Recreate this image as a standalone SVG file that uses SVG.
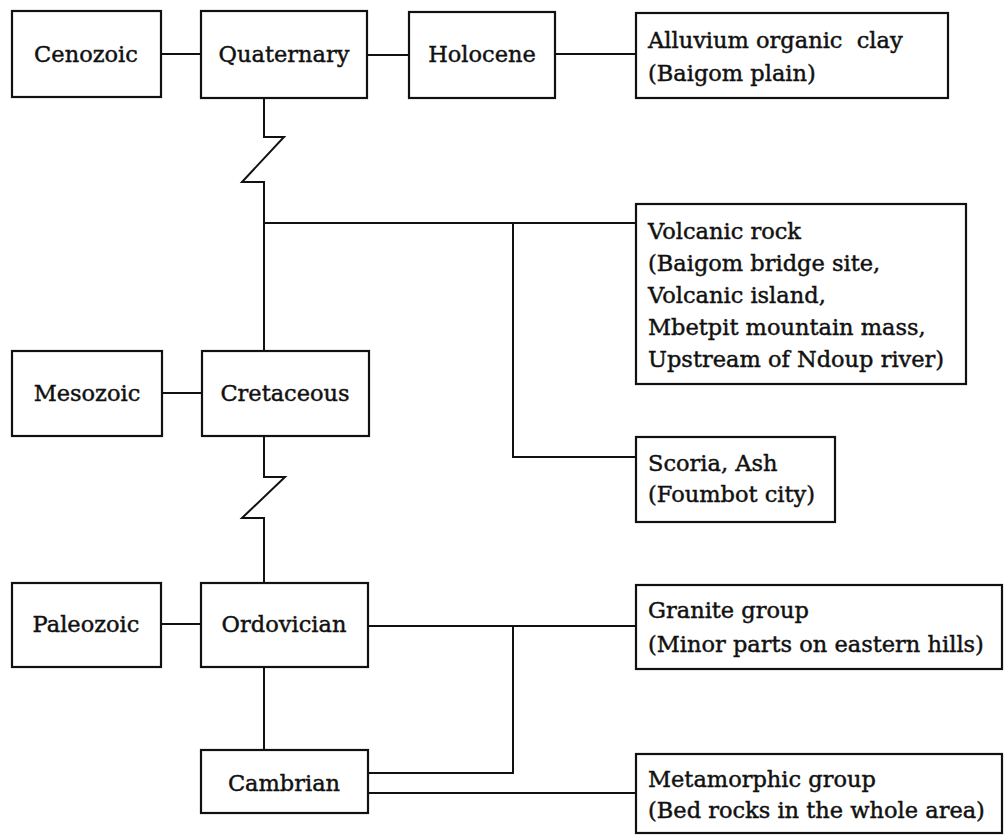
<svg xmlns="http://www.w3.org/2000/svg" width="1004" height="836" viewBox="0 0 1004 836">
<style>
.box{fill:#fff;stroke:#111;stroke-width:2.2}
.ln{fill:none;stroke:#111;stroke-width:2}
text{font-family:"DejaVu Serif","Liberation Serif",serif;font-size:22.5px;fill:#111;stroke:#111;stroke-width:0.45;white-space:pre}
.c{text-anchor:middle}
</style>
<rect width="1004" height="836" fill="#fff"/>
<g id="connectors">
<path class="ln" d="M161 54H201"/>
<path class="ln" d="M367 55H409"/>
<path class="ln" d="M555 54H636"/>
<path class="ln" d="M264 98V137H284L242 182H264V351"/>
<path class="ln" d="M264 223H636"/>
<path class="ln" d="M513 223V457H636"/>
<path class="ln" d="M162 393H202"/>
<path class="ln" d="M264 436V477H285L242 518H264V583"/>
<path class="ln" d="M161 624H201"/>
<path class="ln" d="M368 626H636"/>
<path class="ln" d="M264 667V750"/>
<path class="ln" d="M513 626V773H368"/>
<path class="ln" d="M368 793H636"/>
</g>
<g id="cenozoic"><rect class="box" x="12" y="11" width="149" height="86"/><text class="c" x="86" y="62">Cenozoic</text></g>
<g id="quaternary"><rect class="box" x="201" y="11" width="166" height="87"/><text class="c" x="284" y="62">Quaternary</text></g>
<g id="holocene"><rect class="box" x="409" y="12" width="146" height="86"/><text class="c" x="482" y="62">Holocene</text></g>
<g id="alluvium"><rect class="box" x="636" y="13" width="312" height="85"/><text x="648" y="48">Alluvium organic  clay</text><text x="648" y="81">(Baigom plain)</text></g>
<g id="volcanic"><rect class="box" x="636" y="204" width="330" height="180"/>
<text x="648" y="239">Volcanic rock</text><text x="648" y="271">(Baigom bridge site,</text><text x="648" y="303">Volcanic island,</text><text x="648" y="335">Mbetpit mountain mass,</text><text x="648" y="367">Upstream of Ndoup river)</text></g>
<g id="mesozoic"><rect class="box" x="12" y="351" width="150" height="85"/><text class="c" x="87" y="401">Mesozoic</text></g>
<g id="cretaceous"><rect class="box" x="202" y="351" width="167" height="85"/><text class="c" x="285" y="401">Cretaceous</text></g>
<g id="scoria"><rect class="box" x="636" y="437" width="199" height="85"/><text x="648" y="471">Scoria, Ash</text><text x="648" y="502">(Foumbot city)</text></g>
<g id="paleozoic"><rect class="box" x="12" y="583" width="149" height="84"/><text class="c" x="86" y="632">Paleozoic</text></g>
<g id="ordovician"><rect class="box" x="201" y="583" width="167" height="84"/><text class="c" x="284" y="632">Ordovician</text></g>
<g id="granite"><rect class="box" x="636" y="585" width="366" height="84"/><text x="648" y="618">Granite group</text><text x="648" y="652">(Minor parts on eastern hills)</text></g>
<g id="cambrian"><rect class="box" x="201" y="750" width="167" height="63"/><text class="c" x="284" y="791">Cambrian</text></g>
<g id="metamorphic"><rect class="box" x="636" y="754" width="366" height="79"/><text x="648" y="787">Metamorphic group</text><text x="648" y="818">(Bed rocks in the whole area)</text></g>
</svg>
